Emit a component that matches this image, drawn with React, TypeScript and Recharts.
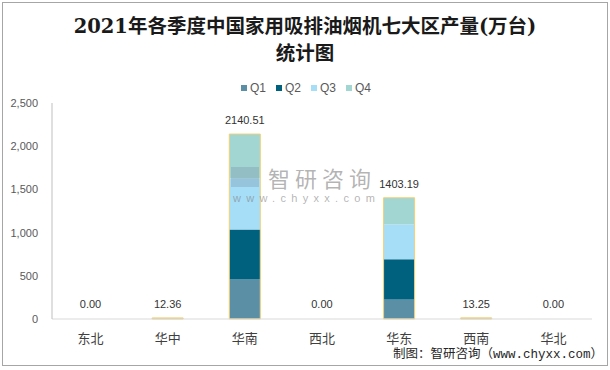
import React from 'react';
import { BarChart, Bar, XAxis, YAxis, LabelList } from 'recharts';

const regions = ['东北', '华中', '华南', '西北', '华东', '西南', '华北'];
const q1 = [0, 3.02, 457, 0, 227, 3.2, 0];
const q2 = [0, 3.11, 580, 0, 464, 3.35, 0];
const q3 = [0, 3.05, 591, 0, 403, 3.3, 0];
const q4 = [0, 3.18, 512.51, 0, 309.19, 3.4, 0];
const totals = [0, 12.36, 2140.51, 0, 1403.19, 13.25, 0];
const yTicks = [0, 500, 1000, 1500, 2000, 2500];
const seriesNames = ['Q1', 'Q2', 'Q3', 'Q4'];
const seriesColors = ['#5B8FA6', '#00617F', '#A6DEF7', '#A1D6D3'];

const data = regions.map((name, i) => ({
  name,
  Q1: q1[i],
  Q2: q2[i],
  Q3: q3[i],
  Q4: q4[i],
  total: totals[i],
}));

const cjk = "'Noto Sans CJK SC', 'Noto Sans', sans-serif";

export default function App() {
  return (
    <div style={{ position: 'absolute', left: 0, top: 0, width: 610, height: 370, background: '#fff', overflow: 'hidden' }}>
      <div style={{ position: 'absolute', left: 2, top: 2, width: 606, height: 364, border: '1px solid #A6A6A6', boxSizing: 'border-box' }} />
      <div style={{ position: 'absolute', left: 0, top: 13, width: 610, textAlign: 'center', fontFamily: "'DejaVu Serif', 'Noto Sans CJK SC', serif", fontWeight: 600, fontSize: 19.5, lineHeight: '27px', color: '#1a1a1a' }}>
        <div>2021年各季度中国家用吸排油烟机七大区产量(万台)</div>
        <div>统计图</div>
      </div>
      <div style={{ position: 'absolute', left: 241, top: 81, display: 'flex', alignItems: 'center', fontFamily: "'Liberation Sans', sans-serif", fontSize: 12, color: '#595959' }}>
        {seriesNames.map((n, i) => (
          <div key={n} style={{ display: 'flex', alignItems: 'center', width: 35 }}>
            <div style={{ width: 6, height: 6, background: seriesColors[i], marginRight: 3 }} />
            <span>{n}</span>
          </div>
        ))}
      </div>
      <BarChart
        width={610}
        height={370}
        data={data}
        margin={{ top: 103, right: 18, bottom: 21, left: 0 }}
        barSize={31}
        style={{ position: 'absolute', left: 0, top: 0 }}
      >
        <XAxis
          dataKey="name"
          axisLine={{ stroke: '#D9D9D9' }}
          tickLine={false}
          height={30}
          tickMargin={9}
          tick={{ fontSize: 13, fill: '#404040', fontFamily: cjk }}
        />
        <XAxis xAxisId="t" dataKey="name" hide />
        <XAxis xAxisId="l" dataKey="name" hide />
        <YAxis
          width={52}
          domain={[0, 2500]}
          ticks={yTicks}
          axisLine={{ stroke: '#BFBFBF' }}
          tickLine={false}
          tickMargin={8}
          tickFormatter={(v: number) => v.toLocaleString('en-US')}
          tick={{ fontSize: 11, fill: '#595959', fontFamily: "'Liberation Sans', sans-serif" }}
        />
        {seriesNames.map((n, i) => (
          <Bar key={n} dataKey={n} stackId="a" fill={seriesColors[i]} isAnimationActive={false} />
        ))}
        <Bar xAxisId="t" dataKey="total" fill="none" stroke="#F5CF73" strokeWidth={1} isAnimationActive={false} />
        <Bar xAxisId="l" dataKey="total" fill="none" stroke="none" minPointSize={1} isAnimationActive={false}>
          <LabelList
            dataKey="total"
            position="top"
            offset={10}
            formatter={(v: number) => Number(v).toFixed(2)}
            style={{ fontSize: 11, fill: '#333333', fontFamily: "'Liberation Sans', sans-serif" }}
          />
        </Bar>
      </BarChart>
      <div style={{ position: 'absolute', left: 230, top: 165, width: 150, height: 40, pointerEvents: 'none', color: 'rgba(130,130,130,0.6)' }}>
        <div style={{ position: 'absolute', left: 1, top: 2, width: 28, height: 20, background: 'rgba(120,150,170,0.35)' }} />
        <div style={{ position: 'absolute', left: 38, top: 0, fontFamily: cjk, fontSize: 22, lineHeight: '24px', letterSpacing: 5 }}>智研咨询</div>
        <div style={{ position: 'absolute', left: 3, top: 27, fontFamily: "'Liberation Sans', sans-serif", fontSize: 11, lineHeight: '12px', letterSpacing: 5.3 }}>www.chyxx.com</div>
      </div>
      <div style={{ position: 'absolute', left: 393, top: 347, fontFamily: "'Liberation Mono', 'Noto Sans CJK SC', monospace", fontSize: 12.5, lineHeight: '16px', color: '#262626', whiteSpace: 'nowrap' }}>
        制图：智研咨询（www.chyxx.com）
      </div>
    </div>
  );
}
